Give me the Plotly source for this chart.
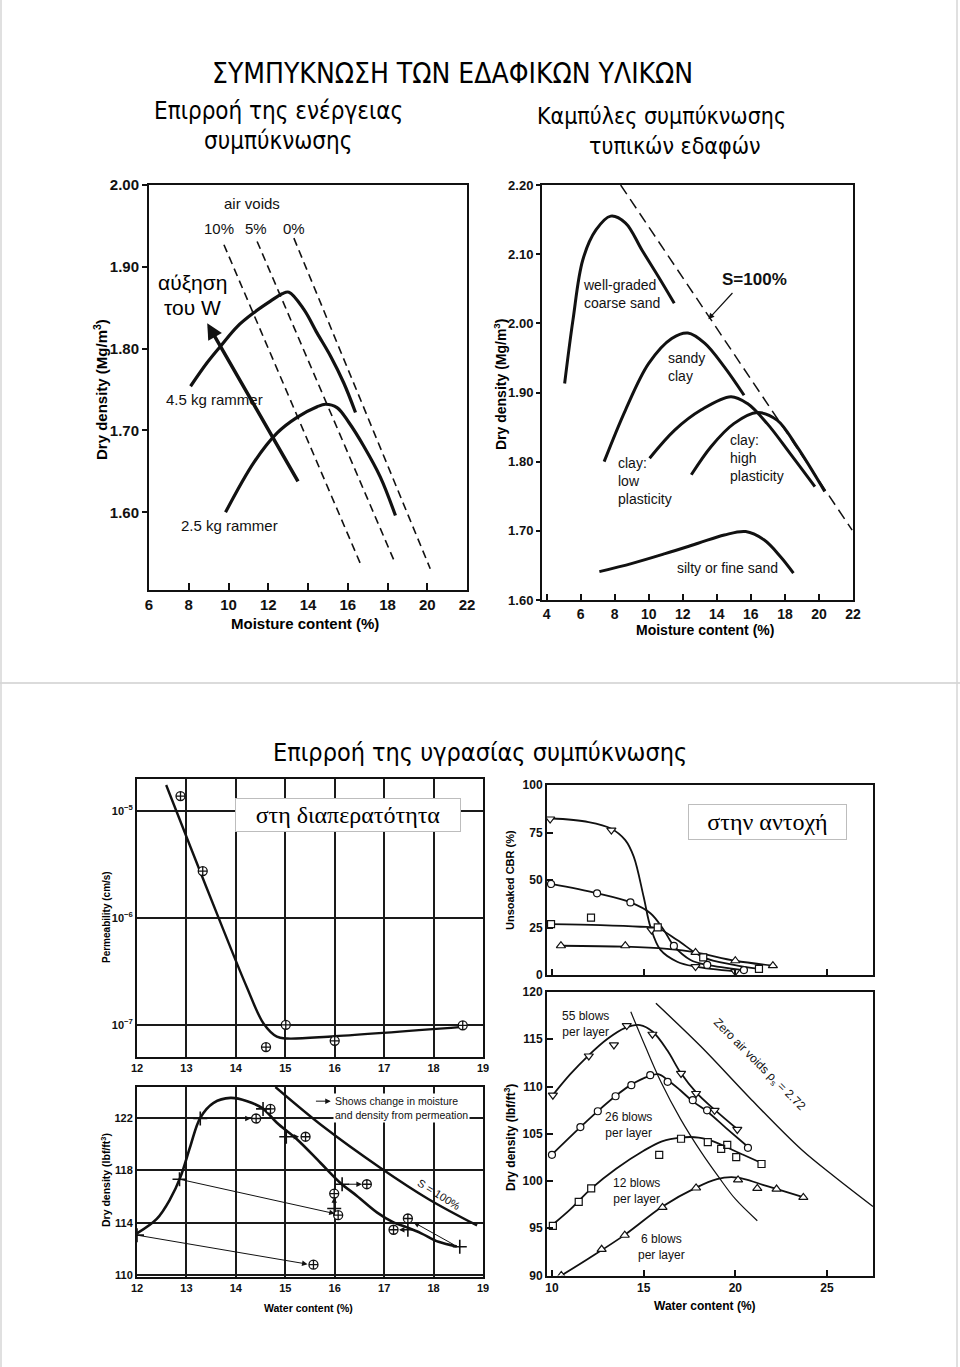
import plotly.graph_objects as go

W, H = 960, 1367
INK = "#111111"
SANS = "Liberation Sans, Arial, sans-serif"
NARROW = "Liberation Sans Narrow, Arial Narrow, DejaVu Sans Condensed, Liberation Sans, sans-serif"
SERIF = "Liberation Serif, Times New Roman, serif"

def PX(x): return x / W
def PY(y): return 1 - y / H

# ---------------- Panel 1 : effect of compaction energy ----------------
p1_w_45 = [8.09, 8.93, 9.6, 10.44, 11.28, 12.11, 12.7, 13.04, 13.79, 14.46, 15.13, 15.8, 16.39]
p1_d_45 = [1.754, 1.783, 1.803, 1.827, 1.844, 1.858, 1.867, 1.869, 1.848, 1.819, 1.791, 1.758, 1.722]
p1_w_25 = [9.85, 11.28, 12.45, 13.45, 14.46, 14.88, 15.46, 16.05, 16.8, 17.64, 18.4]
p1_d_25 = [1.60, 1.661, 1.697, 1.716, 1.729, 1.732, 1.728, 1.710, 1.681, 1.643, 1.596]
p1_av10_w = [9.77, 16.64]
p1_av10_d = [1.927, 1.537]
p1_av5_w = [11.44, 18.4]
p1_av5_d = [1.931, 1.537]
p1_av0_w = [13.29, 20.15]
p1_av0_d = [1.935, 1.531]
p1_xticks = [6, 8, 10, 12, 14, 16, 18, 20, 22]
p1_yticks = [1.60, 1.70, 1.80, 1.90, 2.00]

# ---------------- Panel 2 : typical soils ----------------
p2_sand_w = [5.06, 5.55, 6.13, 6.9, 7.77, 8.64, 9.6, 10.58, 11.5]
p2_sand_d = [1.913, 2.005, 2.092, 2.135, 2.155, 2.145, 2.106, 2.067, 2.029]
p2_sclay_w = [7.38, 8.64, 10.0, 11.35, 12.3, 13.3, 14.44, 15.6]
p2_sclay_d = [1.80, 1.875, 1.942, 1.978, 1.986, 1.971, 1.937, 1.896]
p2_low_w = [10.05, 11.54, 13.09, 14.83, 15.8, 16.96, 18.3, 19.76]
p2_low_d = [1.805, 1.846, 1.875, 1.894, 1.884, 1.855, 1.812, 1.764]
p2_high_w = [12.5, 13.67, 15.0, 16.38, 17.54, 18.7, 20.34]
p2_high_d = [1.781, 1.822, 1.855, 1.871, 1.860, 1.822, 1.757]
p2_silt_w = [7.1, 9.03, 10.96, 12.9, 14.44, 15.7, 16.77, 17.73, 18.5]
p2_silt_d = [1.641, 1.653, 1.667, 1.682, 1.694, 1.699, 1.687, 1.663, 1.639]
p2_sat_w = [8.35, 21.95]
p2_sat_d = [2.20, 1.701]
p2_xticks = [4, 6, 8, 10, 12, 14, 16, 18, 20, 22]
p2_yticks = [1.60, 1.70, 1.80, 1.90, 2.00, 2.10, 2.20]

# ---------------- Panel 3 : permeability ----------------
p3_w = [12.88, 13.33, 14.61, 15.01, 16.0, 18.59]
p3_k = [1.37e-5, 2.73e-6, 6.2e-8, 1.0e-7, 7.1e-8, 9.9e-8]
p3_curve_w = [12.59, 13.08, 13.75, 14.22, 14.56, 14.83, 15.03, 16.0, 18.59]
p3_curve_k = [1.74e-5, 4.61e-6, 7.67e-7, 2.26e-7, 1.03e-7, 7.76e-8, 7.45e-8, 7.83e-8, 9.57e-8]
p3_xticks = [12, 13, 14, 15, 16, 17, 18, 19]
p3_yticks = [1e-7, 1e-6, 1e-5]
p3_yticktext = ["10<sup>−7</sup>", "10<sup>−6</sup>", "10<sup>−5</sup>"]

# ---------------- Panel 4 : density / permeation ----------------
p4_curve_w = [12.0, 12.4, 12.67, 12.88, 13.08, 13.28, 13.55, 13.89, 14.23, 14.55, 14.83, 15.24,
              15.71, 16.11, 16.45, 16.86, 17.19, 17.46, 17.75, 18.1, 18.47]
p4_curve_d = [113.2, 114.3, 115.8, 117.5, 119.85, 122.0, 123.14, 123.52, 123.27, 122.7, 121.62, 120.35,
              118.58, 117.06, 116.05, 114.78, 114.03, 113.65, 113.2, 112.55, 112.2]
p4_sat_w = [14.8, 15.78, 16.92, 17.9, 18.88]
p4_sat_d = [124.35, 121.3, 118.2, 115.8, 113.8]
p4_before_w = [12.0, 12.86, 13.28, 14.55, 15.02, 16.15, 15.99, 17.48, 18.53]
p4_before_d = [113.06, 117.32, 121.95, 122.68, 120.56, 116.94, 115.09, 113.47, 112.18]
p4_after_w = [14.7, 14.41, 15.41, 16.65, 15.99, 16.07, 17.48, 17.19, 15.57]
p4_after_d = [122.68, 121.95, 120.56, 116.94, 116.23, 114.58, 114.33, 113.47, 110.81]
p4_arrow_from_w = [12.0, 12.86, 13.38, 15.1, 16.25, 15.99, 18.44, 17.42]
p4_arrow_from_d = [113.06, 117.32, 121.95, 120.56, 116.94, 115.35, 112.27, 113.47]
p4_arrow_to_w = [15.45, 16.0, 14.3, 15.28, 16.55, 15.99, 17.6, 17.3]
p4_arrow_to_d = [110.85, 114.7, 121.95, 120.56, 116.94, 115.95, 114.03, 113.47]
p4_xticks = [12, 13, 14, 15, 16, 17, 18, 19]
p4_yticks = [110, 114, 118, 122]

# ---------------- Panel 5 : unsoaked CBR ----------------
p5_dn_w = [9.9, 13.24, 15.43, 17.83, 20.0]
p5_dn_c = [82.1, 76.3, 23.7, 4.4, 1.75]
p5_dn_cw = [9.9, 12.0, 13.24, 14.0, 14.46, 15.0, 15.37, 15.92, 16.83, 17.83, 20.0]
p5_dn_cc = [82.5, 80.5, 77.0, 71.0, 62.3, 41.2, 25.4, 13.2, 7.0, 4.4, 1.9]
p5_ci_w = [9.95, 12.46, 14.28, 16.65, 18.47, 20.47]
p5_ci_c = [47.9, 43.0, 38.2, 15.3, 5.3, 2.6]
p5_ci_cw = [9.95, 12.46, 14.28, 15.37, 16.1, 16.65, 17.56, 18.47, 20.47]
p5_ci_cc = [47.9, 43.0, 38.2, 32.5, 23.7, 15.3, 7.9, 5.3, 2.6]
p5_sq_w = [9.95, 12.13, 15.77, 18.25, 21.29]
p5_sq_c = [26.8, 30.2, 25.1, 9.3, 3.2]
p5_sq_cw = [9.95, 12.65, 14.83, 15.77, 16.83, 18.25, 19.92, 21.29]
p5_sq_cc = [26.8, 26.3, 25.4, 24.6, 18.4, 9.3, 5.3, 3.2]
p5_up_w = [10.49, 14.0, 17.83, 20.0, 22.05]
p5_up_c = [15.4, 15.4, 11.9, 7.5, 4.9]
p5_up_cw = [10.49, 14.0, 16.28, 17.83, 20.0, 22.05]
p5_up_cc = [15.4, 14.9, 13.7, 11.9, 7.5, 4.9]
p5_yticks = [0, 25, 50, 75, 100]

# ---------------- Panel 6 : dry density vs blows ----------------
p6_55_w = [10.05, 12.01, 13.38, 14.08, 15.48, 17.04, 17.86, 18.87, 20.11]
p6_55_d = [109.08, 113.23, 114.4, 116.45, 115.53, 111.38, 109.26, 107.48, 105.46]
p6_55_cw = [10.05, 11.0, 12.0, 13.0, 14.0, 14.8, 15.5, 16.3, 17.0, 17.9, 18.9, 20.1]
p6_55_cd = [109.1, 111.3, 113.3, 115.0, 116.2, 116.5, 115.8, 113.8, 111.5, 109.3, 107.5, 105.5]
p6_26_w = [10.0, 11.55, 12.5, 13.47, 14.33, 15.36, 16.31, 17.68, 18.46, 20.69]
p6_26_d = [102.77, 105.71, 107.38, 108.97, 110.14, 111.2, 110.5, 108.55, 107.48, 103.51]
p6_26_cw = [10.0, 11.55, 12.5, 13.47, 14.33, 15.3, 15.8, 16.31, 17.0, 17.7, 18.5, 19.5, 20.7]
p6_26_cd = [102.8, 105.7, 107.4, 109.0, 110.2, 111.1, 111.3, 110.7, 109.6, 108.4, 107.3, 105.6, 103.6]
p6_12_w = [10.05, 11.46, 12.14, 15.85, 17.04, 18.5, 19.23, 19.56, 20.05, 21.43]
p6_12_d = [95.25, 97.8, 99.22, 102.77, 104.47, 104.11, 103.4, 103.83, 102.52, 101.8]
p6_12_cw = [10.05, 11.0, 11.46, 12.14, 13.5, 15.0, 16.0, 17.0, 18.0, 18.8, 19.5, 20.4, 21.43]
p6_12_cd = [95.4, 97.0, 97.9, 99.2, 101.3, 103.2, 104.2, 104.6, 104.6, 104.2, 103.6, 102.8, 101.9]
p6_6_w = [10.51, 12.71, 13.97, 16.03, 17.86, 20.15, 21.2, 22.25, 23.71]
p6_6_d = [90.0, 92.77, 94.26, 97.2, 99.26, 100.11, 99.22, 99.15, 98.26]
p6_6_cw = [10.51, 12.0, 13.97, 16.03, 17.86, 19.0, 19.8, 20.5, 21.5, 22.5, 23.7]
p6_6_cd = [90.0, 91.8, 94.3, 97.3, 99.3, 100.2, 100.4, 100.2, 99.6, 99.0, 98.3]
p6_opt_w = [14.3, 15.1, 15.94, 17.0, 18.14, 19.1, 20.0, 21.2]
p6_opt_d = [117.9, 114.2, 110.5, 106.6, 103.05, 100.4, 98.1, 95.8]
p6_zav_w = [15.67, 18.14, 20.88, 23.62, 25.45, 27.51]
p6_zav_d = [118.8, 114.2, 108.6, 103.3, 100.4, 97.3]
p6_xticks = [10, 15, 20, 25]
p6_yticks = [90, 95, 100, 105, 110, 115, 120]

fig = go.Figure()

def line(xs, ys, ax, width=3, dash="solid", shape="spline"):
    fig.add_trace(go.Scatter(x=xs, y=ys, mode="lines", xaxis="x" + ax, yaxis="y" + ax,
                             line=dict(color=INK, width=width, dash=dash, shape=shape),
                             showlegend=False, hoverinfo="skip"))

def marks(xs, ys, ax, symbol, size=8, lw=1.3):
    fig.add_trace(go.Scatter(x=xs, y=ys, mode="markers", xaxis="x" + ax, yaxis="y" + ax,
                             marker=dict(symbol=symbol, size=size, color=INK,
                                         line=dict(color=INK, width=lw)),
                             showlegend=False, hoverinfo="skip"))

# white discs below open markers so lines do not show through
def discs(xs, ys, ax, symbol, size):
    fig.add_trace(go.Scatter(x=xs, y=ys, mode="markers", xaxis="x" + ax, yaxis="y" + ax,
                             marker=dict(symbol=symbol, size=size, color="white",
                                         line=dict(width=0)),
                             showlegend=False, hoverinfo="skip"))

# panel 1
line(p1_w_45, p1_d_45, "", 3.2)
line(p1_w_25, p1_d_25, "", 3.2)
for xs, ys in [(p1_av10_w, p1_av10_d), (p1_av5_w, p1_av5_d), (p1_av0_w, p1_av0_d)]:
    line(xs, ys, "", 1.6, dash="8px,5px", shape="linear")
# panel 2
for xs, ys in [(p2_sand_w, p2_sand_d), (p2_sclay_w, p2_sclay_d), (p2_low_w, p2_low_d),
               (p2_high_w, p2_high_d), (p2_silt_w, p2_silt_d)]:
    line(xs, ys, "2", 3.0)
line(p2_sat_w, p2_sat_d, "2", 1.5, dash="11px,6px", shape="linear")
# panel 3
line(p3_curve_w, p3_curve_k, "3", 2.4)
discs(p3_w, p3_k, "3", "circle", 9)
marks(p3_w, p3_k, "3", "circle-cross-open", 9, 1.3)
# panel 4
line(p4_curve_w, p4_curve_d, "4", 2.6)
line(p4_sat_w, p4_sat_d, "4", 2.4)
discs(p4_after_w, p4_after_d, "4", "circle", 9)
marks(p4_after_w, p4_after_d, "4", "circle-cross-open", 9, 1.3)
marks(p4_before_w, p4_before_d, "4", "cross-thin-open", 10, 1.6)
# panel 5
for cw, cc in [(p5_dn_cw, p5_dn_cc), (p5_ci_cw, p5_ci_cc), (p5_sq_cw, p5_sq_cc), (p5_up_cw, p5_up_cc)]:
    line(cw, cc, "5", 1.8)
for xs, ys, sym, sz in [(p5_dn_w, p5_dn_c, "triangle-down", 8), (p5_ci_w, p5_ci_c, "circle", 7),
                        (p5_sq_w, p5_sq_c, "square", 7), (p5_up_w, p5_up_c, "triangle-up", 8)]:
    discs(xs, ys, "5", sym, sz)
    marks(xs, ys, "5", sym + "-open", sz, 1.2)
# panel 6
for cw, cd in [(p6_55_cw, p6_55_cd), (p6_26_cw, p6_26_cd), (p6_12_cw, p6_12_cd), (p6_6_cw, p6_6_cd)]:
    line(cw, cd, "6", 1.8)
line(p6_opt_w, p6_opt_d, "6", 1.2)
line(p6_zav_w, p6_zav_d, "6", 1.4)
for xs, ys, sym, sz in [(p6_55_w, p6_55_d, "triangle-down", 8), (p6_26_w, p6_26_d, "circle", 7),
                        (p6_12_w, p6_12_d, "square", 7), (p6_6_w, p6_6_d, "triangle-up", 8)]:
    discs(xs, ys, "6", sym, sz)
    marks(xs, ys, "6", sym + "-open", sz, 1.2)

def axis(domain_px, rng, **kw):
    d = dict(domain=[PX(domain_px[0]), PX(domain_px[1])], range=rng, showgrid=False, zeroline=False,
             showline=True, linecolor=INK, linewidth=2, mirror=True, ticks="inside", ticklen=6,
             tickcolor=INK, tickwidth=1.5, automargin=False,
             tickfont=dict(family=SANS, size=11, color=INK, weight="bold"))
    d.update(kw)
    return d

def yaxis(domain_py, rng, **kw):
    d = dict(domain=[PY(domain_py[1]), PY(domain_py[0])], range=rng, showgrid=False, zeroline=False,
             showline=True, linecolor=INK, linewidth=2, mirror=True, ticks="inside", ticklen=6,
             tickcolor=INK, tickwidth=1.5, automargin=False,
             tickfont=dict(family=SANS, size=11, color=INK, weight="bold"))
    d.update(kw)
    return d

big = dict(family=SANS, size=15, color=INK, weight="bold")
big13 = dict(family=SANS, size=13, color=INK, weight="bold")
big14 = dict(family=SANS, size=14, color=INK, weight="bold")
mid = dict(family=SANS, size=12, color=INK, weight="bold")
GRID = dict(showgrid=True, gridcolor="#1a1a1a", gridwidth=1.6)

layout = dict(
    width=W, height=H, margin=dict(l=0, r=0, t=0, b=0, pad=0), autosize=False,
    paper_bgcolor="white", plot_bgcolor="white", showlegend=False,
    xaxis=axis([149, 467], [6, 22], tickvals=p1_xticks, tickfont=big, ticklen=7, anchor="y"),
    yaxis=yaxis([185, 590], [1.505, 2.0], tickvals=p1_yticks, tickformat=".2f", tickfont=big,
                ticks="outside", ticklen=5, anchor="x"),
    xaxis2=axis([542, 853], [3.73, 22], tickvals=p2_xticks, tickfont=big14, anchor="y2"),
    yaxis2=yaxis([185, 600], [1.60, 2.20], tickvals=p2_yticks, tickformat=".2f", tickfont=big13,
                 ticks="outside", ticklen=4, anchor="x2"),
    xaxis3=axis([137, 483], [12, 19], tickvals=p3_xticks, anchor="y3", ticks="", **GRID),
    yaxis3=yaxis([779, 1057], [-7.3, -4.704], type="log", tickvals=p3_yticks, ticktext=p3_yticktext,
                 anchor="x3", ticks="", **GRID),
    xaxis4=axis([137, 483], [12, 19], tickvals=p4_xticks, anchor="y4", ticks="", **GRID),
    yaxis4=yaxis([1087, 1277], [109.87, 124.35], tickvals=p4_yticks, anchor="x4", ticks="", **GRID),
    xaxis5=axis([547, 873], [9.73, 27.51], tickvals=p6_xticks, showticklabels=False, anchor="y5"),
    yaxis5=yaxis([785, 975], [0, 100], tickvals=p5_yticks, anchor="x5", tickfont=mid),
    xaxis6=axis([547, 873], [9.73, 27.51], tickvals=p6_xticks, anchor="y6", tickfont=mid),
    yaxis6=yaxis([992, 1275.5], [90, 120], tickvals=p6_yticks, anchor="x6", tickfont=mid),
)

ann = []
def T(text, x, y, ref="", size=14, family=SANS, weight="normal", angle=0, **kw):
    d = dict(text=text, x=x, y=y, xref="x" + ref, yref="y" + ref, showarrow=False, textangle=angle,
             xanchor="center", yanchor="middle",
             font=dict(family=family, size=size, color=INK, weight=weight))
    d.update(kw)
    ann.append(d)

def P(text, x, y, size=14, family=SANS, weight="normal", angle=0, **kw):
    d = dict(text=text, x=PX(x), y=PY(y), xref="paper", yref="paper", showarrow=False,
             xanchor="center", yanchor="middle", textangle=angle,
             font=dict(family=family, size=size, color="#000", weight=weight))
    d.update(kw)
    ann.append(d)

def A(x0, y0, x1, y1, ref, width=1.0, head=2, size=1.0):
    ann.append(dict(x=x1, y=y1, ax=x0, ay=y0, xref="x" + ref, yref="y" + ref,
                    axref="x" + ref, ayref="y" + ref, showarrow=True, arrowhead=head,
                    arrowsize=size, arrowwidth=width, arrowcolor=INK, text=""))

# headings
P("ΣΥΜΠΥΚΝΩΣΗ ΤΩΝ ΕΔΑΦΙΚΩΝ ΥΛΙΚΩΝ", 452, 73, size=28, family=NARROW)
P("Επιρροή της ενέργειας", 278, 111, size=24, family=NARROW)
P("συμπύκνωσης", 278, 141, size=24, family=NARROW)
P("Καμπύλες συμπύκνωσης", 661, 116, size=23, family=NARROW)
P("τυπικών εδαφών", 675, 146, size=23, family=NARROW)
P("Επιρροή της υγρασίας συμπύκνωσης", 480, 752, size=25, family=NARROW)

# panel 1 texts
T("air voids", 11.2, 1.978, "", 15)
T("10%", 9.5, 1.947, "", 15)
T("5%", 11.36, 1.947, "", 15)
T("0%", 13.3, 1.947, "", 15)
T("4.5 kg rammer", 9.3, 1.738, "", 15)
T("2.5 kg rammer", 10.05, 1.584, "", 15)
P("αύξηση", 192, 282, size=21)
P("του W", 192, 308, size=21)
A(13.54, 1.636, 8.93, 1.831, "", width=3.5, head=2, size=0.9)
P("Moisture content (%)", 305, 623, size=15, weight="bold")
P("Dry density (Mg/m<sup>3</sup>)", 100, 390, size=15, weight="bold", angle=-90)

# panel 2 texts (left-aligned blocks)
T("well-graded<br>coarse sand", 6.0, 2.043, "2", 14, xanchor="left", align="left")
T("S=100%", 16.2, 2.063, "2", 17, weight="bold")
A(15.0, 2.046, 13.5, 2.006, "2", width=1.2)
T("sandy<br>clay", 11.02, 1.937, "2", 14, xanchor="left", align="left")
T("clay:<br>low<br>plasticity", 8.06, 1.772, "2", 14, xanchor="left", align="left")
T("clay:<br>high<br>plasticity", 14.68, 1.805, "2", 14, xanchor="left", align="left")
T("silty or fine sand", 14.6, 1.646, "2", 14)
P("Moisture content (%)", 705, 630, size=14, weight="bold")
P("Dry density (Mg/m<sup>3</sup>)", 500, 385, size=14, weight="bold", angle=-90)

# panel 3 texts
P("στη διαπερατότητα", 347.5, 815, size=24, family=SERIF, bgcolor="white",
  bordercolor="#bdbdbd", borderwidth=1, width=222, height=30)
P("Permeability (cm/s)", 106, 917, size=10, weight="bold", angle=-90)

# panel 4 texts
for x0, y0, x1, y1 in zip(p4_arrow_from_w, p4_arrow_from_d, p4_arrow_to_w, p4_arrow_to_d):
    A(x0, y0, x1, y1, "4", width=1.0, head=2, size=1.1)
A(15.59, 123.27, 15.92, 123.27, "4", width=1.0, head=2, size=1.1)
T("Shows change in moisture<br>and density from permeation", 15.97, 122.75, "4", 10.5,
  xanchor="left", align="left", bgcolor="white")
T("S = 100%", 18.1, 116.2, "4", 11, angle=32)
P("Water content (%)", 308, 1308, size=10.5, weight="bold")
P("Dry density (lbf/ft<sup>3</sup>)", 105, 1180, size=10.5, weight="bold", angle=-90)

# panel 5 texts
P("στην αντοχή", 767.5, 822, size=24, family=SERIF, bgcolor="white",
  bordercolor="#bdbdbd", borderwidth=1, width=155, height=32)
P("Unsoaked CBR (%)", 510, 880, size=11, weight="bold", angle=-90)

# panel 6 texts
T("55 blows<br>per layer", 11.85, 116.6, "6", 12, align="center")
T("26 blows<br>per layer", 14.2, 105.9, "6", 12, align="center")
T("12 blows<br>per layer", 14.6, 98.9, "6", 12, align="center")
T("6 blows<br>per layer", 16.0, 93.0, "6", 12, align="center")
T("Zero air voids ρ<sub>s</sub> = 2.72", 21.3, 112.3, "6", 12, angle=45)
P("Water content (%)", 705, 1306, size=12, weight="bold")
P("Dry density (lbf/ft<sup>3</sup>)", 510, 1138, size=12, weight="bold", angle=-90)

layout["annotations"] = ann
layout["shapes"] = [
    dict(type="line", xref="paper", yref="paper", x0=0, x1=1, y0=PY(683), y1=PY(683),
         line=dict(color="#cfcfcf", width=1.5)),
    dict(type="line", xref="paper", yref="paper", x0=PX(1), x1=PX(1), y0=0, y1=1,
         line=dict(color="#d6d6d6", width=1.5)),
    dict(type="line", xref="paper", yref="paper", x0=PX(957), x1=PX(957), y0=0, y1=1,
         line=dict(color="#d6d6d6", width=1.5)),
]
fig.update_layout(**layout)
fig.write_html("out.html", config={"displayModeBar": False},
               post_script="document.body.style.margin='0px';document.body.style.padding='0px';")
